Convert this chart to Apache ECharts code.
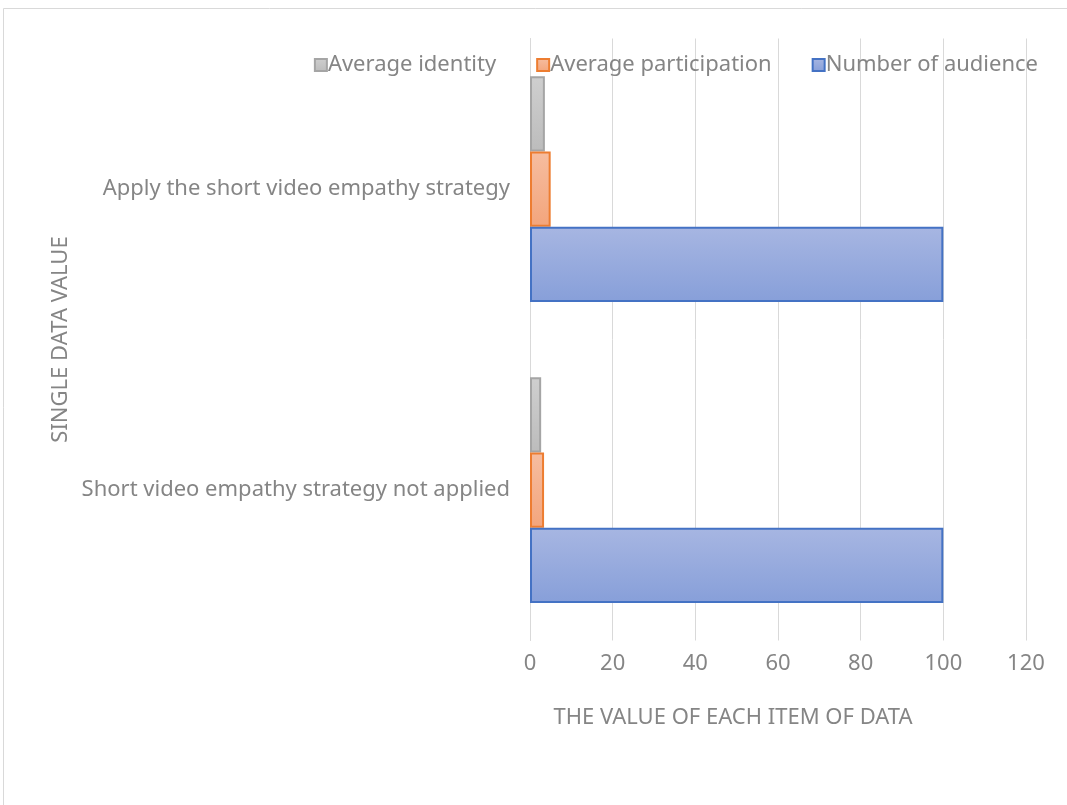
<!DOCTYPE html>
<html>
<head>
<meta charset="utf-8">
<script src="https://cdn.jsdelivr.net/npm/echarts@6/dist/echarts.min.js"></script>
<style>html,body{margin:0;padding:0;background:#fff;}#c{width:1067px;height:805px;}</style>
</head>
<body>
<div id="c"></div>
<script>
const categories = ['Short video empathy strategy not applied', 'Apply the short video empathy strategy'];
const audience = [100, 100];
const participation = [3.4, 5.0];
const identity = [2.7, 3.6];
const xTicks = [0, 20, 40, 60, 80, 100, 120];

const FONT = 'Noto Sans';
const TXT = '#858585';
function grad(a, b) {
  return new echarts.graphic.LinearGradient(0, 0, 0, 1, [{offset: 0, color: a}, {offset: 1, color: b}]);
}
const chart = echarts.init(document.getElementById('c'));
chart.setOption({
  animation: false,
  backgroundColor: '#fff',
  textStyle: {fontFamily: FONT},
  graphic: [{
    type: 'rect', shape: {x: 3.5, y: 8.5, width: 1200, height: 1000},
    style: {fill: 'none', stroke: '#d9d9d9', lineWidth: 1}, silent: true
  }],
  legend: {
    data: ['Average identity', 'Average participation', 'Number of audience'],
    right: 24, top: 49, icon: 'rect',
    itemWidth: 12, itemHeight: 12, itemGap: 40,
    textStyle: {color: TXT, fontSize: 22, fontFamily: FONT, padding: [0, 0, 0, -4]},
  },
  grid: {left: 530, right: 41, top: 38.5, bottom: 164.5, containLabel: false},
  xAxis: {
    type: 'value', min: 0, max: 120, interval: 20,
    name: 'THE VALUE OF EACH ITEM OF DATA',
    nameLocation: 'middle', nameGap: 66,
    nameTextStyle: {color: TXT, fontSize: 22, fontFamily: FONT, padding: [0, 90, 0, 0]},
    axisLine: {show: false}, axisTick: {show: false},
    axisLabel: {color: TXT, fontSize: 22, fontFamily: FONT, margin: 12,
      formatter: v => xTicks.includes(v) ? String(v) : ''},
    splitLine: {show: true, lineStyle: {color: '#d9d9d9', width: 1}}
  },
  yAxis: {
    type: 'category', data: categories,
    name: 'SINGLE DATA VALUE',
    nameLocation: 'middle', nameGap: 458,
    nameTextStyle: {color: TXT, fontSize: 22, fontFamily: FONT},
    axisLine: {show: true, lineStyle: {color: '#d9d9d9'}},
    axisTick: {show: false},
    axisLabel: {color: TXT, fontSize: 22, fontFamily: FONT, margin: 20}
  },
  series: [
    {name: 'Average identity', type: 'bar', data: identity, barGap: '0%', barCategoryGap: '25%',
      itemStyle: {color: grad('#cfcfcf', '#bcbcbc'), borderColor: '#a5a5a5', borderWidth: 2}},
    {name: 'Average participation', type: 'bar', data: participation,
      itemStyle: {color: grad('#f6bda0', '#f3a57c'), borderColor: '#ed7d31', borderWidth: 2}},
    {name: 'Number of audience', type: 'bar', data: audience,
      itemStyle: {color: grad('#a7b6e2', '#879fd9'), borderColor: '#4472c4', borderWidth: 2}}
  ]
});
</script>
</body>
</html>
